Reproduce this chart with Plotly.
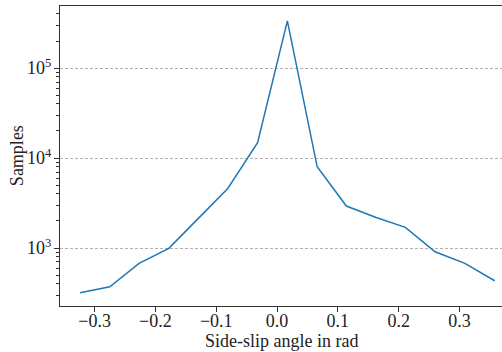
import plotly.graph_objects as go

# Side-slip angle bin centres [rad] and sample counts
side_slip = [-0.324, -0.275, -0.227, -0.178, -0.129, -0.081, -0.032, 0.017,
             0.066, 0.114, 0.163, 0.211, 0.260, 0.309, 0.358]
samples = [318, 371, 676, 993, 2150, 4600, 14800, 335000,
           8000, 2930, 2190, 1700, 910, 676, 433]

x_ticks = [-0.3, -0.2, -0.1, 0.0, 0.1, 0.2, 0.3]
x_ticktext = ["\u22120.3", "\u22120.2", "\u22120.1", "0.0", "0.1", "0.2", "0.3"]
y_ticks = [1e3, 1e4, 1e5]
y_ticktext = ["10<sup>3</sup>", "10<sup>4</sup>", "10<sup>5</sup>"]
y_minor = [m * 10**e for e in range(2, 6) for m in range(2, 10)]

fig = go.Figure()
fig.add_scatter(
    x=side_slip,
    y=samples,
    mode="lines",
    line=dict(color="#1f77b4", width=1.5),
)

fig.update_xaxes(
    range=[-0.357, 0.370],
    tickvals=x_ticks,
    ticktext=x_ticktext,
    automargin=False,
    ticks="outside",
    ticklen=5,
    ticklabelstandoff=-7,
    tickcolor="#333",
    linecolor="#333",
    linewidth=1.2,
    showgrid=False,
    zeroline=False,
    mirror=True,
)
fig.update_yaxes(
    type="log",
    range=[2.356, 5.69],
    tickvals=y_ticks,
    ticktext=y_ticktext,
    automargin=False,
    ticks="outside",
    ticklen=5,
    ticklabelstandoff=-1,
    tickcolor="#333",
    linecolor="#333",
    linewidth=1.2,
    showgrid=True,
    gridcolor="#b0b0b0",
    griddash="3px,2px",
    gridwidth=0.8,
    zeroline=False,
    mirror=True,
    minor=dict(tickvals=y_minor, ticks="outside", ticklen=2.5, tickcolor="#333", showgrid=False),
)

# axis titles as annotations for exact placement
fig.add_annotation(
    text="Side-slip angle in rad", xref="paper", yref="paper",
    x=0.5, y=-0.118, yanchor="middle", showarrow=False,
)
fig.add_annotation(
    text="Samples", xref="paper", yref="paper",
    x=-0.097, y=0.5, xanchor="center", yanchor="middle", textangle=-90, showarrow=False,
)

fig.update_layout(
    width=502,
    height=352,
    margin=dict(l=60, r=0, t=6, b=46),
    font=dict(family="Liberation Serif", size=18, color="#222"),
    showlegend=False,
    plot_bgcolor="white",
    paper_bgcolor="white",
)
fig.write_html(
    "out.html",
    config={"displayModeBar": False},
    post_script="document.body.style.margin='0';",
)
